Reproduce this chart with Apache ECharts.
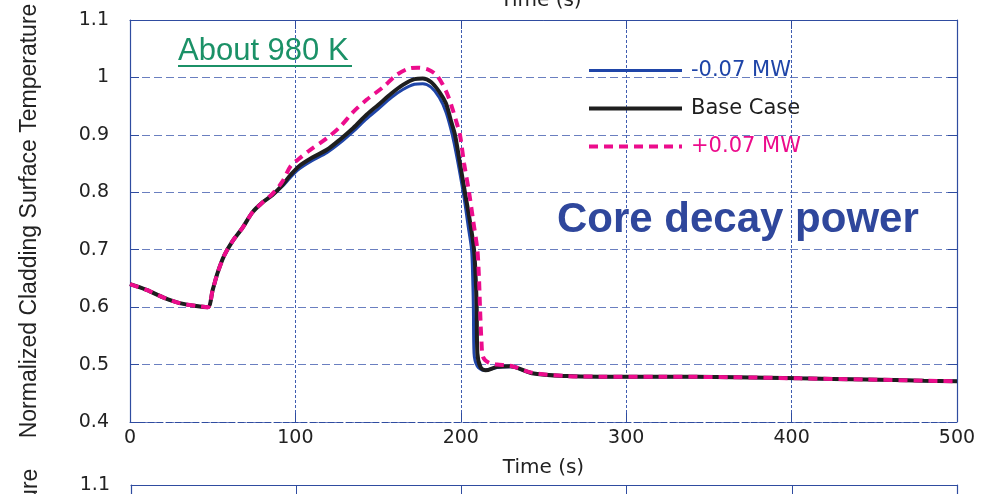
<!DOCTYPE html>
<html lang="en">
<head>
<meta charset="UTF-8">
<title>Core decay power</title>
<script src="https://cdn.jsdelivr.net/npm/echarts@6/dist/echarts.min.js"></script>
<style>
  body, html { padding: 0; margin: 0; background: #fff; }
</style>
</head>
<body>
<div id="chart" style="width:988px;height:494px;"></div>
<script>
// values (time in s, normalized temperature)
var tMinus = [0, 10, 20, 30, 40, 47, 50, 53, 57, 62, 68, 74, 80, 86, 92, 97, 102, 110, 119, 127, 135, 143, 150, 158, 165, 172, 177, 182, 187, 191, 194, 196, 199, 202, 204.5, 206.5, 207.2, 207.6, 208, 210, 214, 222, 230, 243, 264, 284, 320, 365, 405, 445, 480, 500];
var vMinus = [0.640, 0.630, 0.617, 0.607, 0.602, 0.600, 0.630, 0.660, 0.690, 0.715, 0.738, 0.765, 0.782, 0.795, 0.810, 0.826, 0.840, 0.855, 0.869, 0.886, 0.906, 0.928, 0.945, 0.965, 0.979, 0.988, 0.989, 0.983, 0.965, 0.940, 0.910, 0.885, 0.840, 0.790, 0.740, 0.700, 0.650, 0.600, 0.520, 0.497, 0.490, 0.495, 0.496, 0.485, 0.480, 0.479, 0.479, 0.478, 0.476, 0.474, 0.472, 0.471];

var tBase = [0, 10, 20, 30, 40, 47, 50, 53, 57, 62, 68, 74, 80, 86, 92, 97, 102, 110, 119, 127, 135, 143, 150, 158, 165, 172, 177, 182, 187, 191, 194, 196.5, 199.5, 202.5, 205.5, 208, 209, 209.6, 210, 212, 215, 222, 230, 243, 264, 284, 320, 365, 405, 445, 480, 500];
var vBase = [0.640, 0.630, 0.617, 0.607, 0.602, 0.600, 0.630, 0.660, 0.690, 0.715, 0.738, 0.765, 0.782, 0.795, 0.812, 0.830, 0.845, 0.860, 0.874, 0.892, 0.912, 0.935, 0.952, 0.972, 0.987, 0.997, 0.998, 0.992, 0.975, 0.955, 0.925, 0.900, 0.850, 0.800, 0.750, 0.700, 0.650, 0.600, 0.520, 0.495, 0.490, 0.496, 0.497, 0.485, 0.480, 0.479, 0.479, 0.478, 0.476, 0.474, 0.472, 0.471];

var tPlus = [0, 10, 20, 30, 40, 47, 50, 53, 57, 62, 68, 74, 80, 86, 92, 97, 102, 109, 119, 127, 135, 143, 153, 161, 168, 174, 180, 185, 189, 192, 195, 197.6, 199.5, 202, 205, 207.5, 210, 211, 211.6, 212.5, 213.5, 217, 222, 230, 243, 264, 284, 320, 365, 405, 445, 480, 500];
var vPlus = [0.640, 0.630, 0.617, 0.607, 0.602, 0.600, 0.630, 0.660, 0.690, 0.715, 0.738, 0.765, 0.782, 0.797, 0.818, 0.845, 0.858, 0.874, 0.894, 0.914, 0.940, 0.961, 0.983, 1.004, 1.015, 1.017, 1.014, 1.005, 0.988, 0.970, 0.945, 0.920, 0.900, 0.850, 0.800, 0.750, 0.700, 0.650, 0.600, 0.540, 0.513, 0.503, 0.500, 0.498, 0.486, 0.480, 0.479, 0.479, 0.478, 0.476, 0.474, 0.472, 0.471];

var seriesNames = ['-0.07 MW', 'Base Case', '+0.07 MW'];
var seriesColors = ['#1f45a8', '#1e1e1e', '#ec0c8c'];
var seriesWidths = [3, 4, 4];
var xTicks = { min: 0, max: 500, interval: 100 };
var yTicks = { min: 0.4, max: 1.1, interval: 0.1 };

function pairs(t, v) {
    return t.map(function (x, i) { return [x, v[i]]; });
}

var frameBlue = '#2f4ca0';
var labelFont = 'DejaVu Sans';
var yName = 'Normalized Cladding Surface Temperature';

var dom = document.getElementById('chart');
var myChart = echarts.init(dom);

function xAxisFor(grid, pos, labels, name) {
    return {
        type: 'value', gridIndex: grid, position: pos,
        min: xTicks.min, max: xTicks.max, interval: xTicks.interval,
        name: name || '', nameLocation: 'middle', nameGap: 36,
        nameTextStyle: { fontFamily: labelFont, fontSize: 20, color: '#222' },
        axisLine: { show: true, onZero: false, lineStyle: { color: frameBlue, width: 1, type: pos === 'bottom' ? [6, 3] : 'solid' } },
        axisTick: { show: true, inside: true, length: 9, lineStyle: { color: frameBlue } },
        axisLabel: { show: labels, margin: 7, fontFamily: labelFont, fontSize: 19, color: '#222' },
        splitLine: { show: labels, lineStyle: { color: '#3f5cb0', type: [3, 2], width: 1 } }
    };
}

function yAxisFor(grid, pos, labels) {
    return {
        type: 'value', gridIndex: grid, position: pos,
        min: yTicks.min, max: yTicks.max, interval: yTicks.interval,
        name: labels ? yName : '', nameLocation: 'middle', nameGap: 89,
        nameTextStyle: { fontFamily: "'Liberation Sans'", fontSize: 23, color: '#222' },
        axisLine: { show: true, onZero: false, lineStyle: { color: frameBlue, width: 1.2 } },
        axisTick: { show: true, inside: true, length: 9, lineStyle: { color: frameBlue } },
        axisLabel: { show: labels, margin: 21, fontFamily: labelFont, fontSize: 19, color: '#222' },
        splitLine: { show: labels, lineStyle: { color: '#6a7fc0', type: [8, 4], width: 1 } }
    };
}

myChart.setOption({
    animation: false,
    backgroundColor: '#fff',
    grid: [
        { left: 130, right: 31, top: 20, bottom: 72, outerBoundsMode: 'none', containLabel: false },
        { left: 131, right: 31, top: 485, height: 402, outerBoundsMode: 'none', containLabel: false }
    ],
    xAxis: [
        xAxisFor(0, 'bottom', true, 'Time (s)'),
        xAxisFor(0, 'top', false),
        xAxisFor(1, 'bottom', true),
        xAxisFor(1, 'top', false)
    ],
    yAxis: [
        yAxisFor(0, 'left', true),
        yAxisFor(0, 'right', false),
        yAxisFor(1, 'left', true),
        yAxisFor(1, 'right', false)
    ],
    legend: {
        orient: 'vertical',
        left: 582, top: 55,
        itemWidth: 93, itemHeight: 14, itemGap: 17,
        itemStyle: { opacity: 0 },
        textStyle: { fontFamily: labelFont, fontSize: 21, padding: [0, 0, 0, 4] },
        data: seriesNames.map(function (n, i) {
            return {
                name: n,
                textStyle: { color: seriesColors[i] },
                lineStyle: { width: seriesWidths[i] }
            };
        })
    },
    graphic: [
        {
            type: 'text', x: 541, y: -9, z: 10,
            style: { text: 'Time (s)', font: '20px "DejaVu Sans"', fill: '#222', align: 'center' }
        },
        {
            type: 'text', x: 178, y: 51, z: 10,
            style: { text: 'About 980 K', font: '31px "Liberation Sans"', fill: '#1b9167', verticalAlign: 'middle' }
        },
        {
            type: 'line', z: 10,
            shape: { x1: 178, y1: 66, x2: 352, y2: 66 },
            style: { stroke: '#1b9167', lineWidth: 2 }
        },
        {
            type: 'text', x: 557, y: 220, z: 10,
            style: { text: 'Core decay power', font: 'bold 42px "Liberation Sans"', fill: '#2f479c', verticalAlign: 'middle' }
        }
    ],
    series: [0, 1, 2].map(function (i) {
        var data = [pairs(tMinus, vMinus), pairs(tBase, vBase), pairs(tPlus, vPlus)][i];
        return {
            name: seriesNames[i], type: 'line', xAxisIndex: 0, yAxisIndex: 0,
            symbol: 'none', smooth: 0.3, z: 3 + i,
            lineStyle: { color: seriesColors[i], width: seriesWidths[i], type: i === 2 ? [9, 6] : 'solid' },
            itemStyle: { color: seriesColors[i] },
            data: data
        };
    })
});
</script>
</body>
</html>
